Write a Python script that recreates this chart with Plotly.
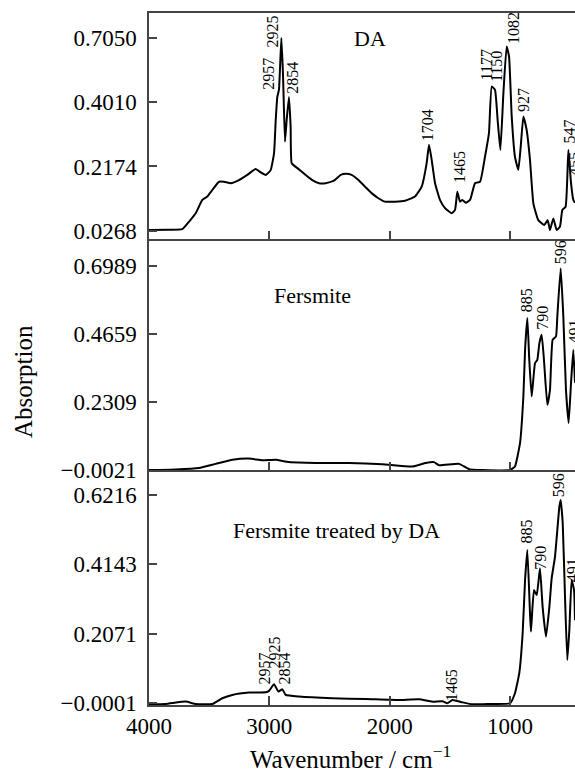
import numpy as np
import plotly.graph_objects as go

# ---------------- data ----------------
wn_da = [4000, 3834, 3723, 3668, 3612, 3557, 3515, 3474, 3418, 3377, 3321, 3252, 3183, 3114, 3072, 3030,
         2989, 2961, 2947, 2934, 2920, 2900, 2886, 2870, 2856, 2837, 2823, 2814, 2767, 2698, 2643, 2587,
         2532, 2463, 2407, 2366, 2316, 2260, 2205, 2150, 2094, 2039, 1956, 1873, 1790, 1734, 1693, 1673,
         1651, 1623, 1582, 1540, 1485, 1457, 1438, 1416, 1396, 1368, 1332, 1291, 1249, 1208, 1175, 1152,
         1125, 1103, 1080, 1055, 1028, 1008, 986, 959, 931, 911, 889, 862, 834, 806, 765, 715, 687, 668,
         640, 612, 585, 565, 538, 515, 493, 474, 460]
abs_da = [0.029, 0.030, 0.032, 0.058, 0.088, 0.135, 0.147, 0.170, 0.199, 0.199, 0.194, 0.205, 0.223, 0.244, 0.232, 0.223,
          0.240, 0.299, 0.416, 0.497, 0.523, 0.705, 0.570, 0.340, 0.417, 0.497, 0.393, 0.264, 0.247, 0.223, 0.205, 0.194,
          0.194, 0.203, 0.223, 0.227, 0.223, 0.205, 0.182, 0.159, 0.141, 0.129, 0.129, 0.132, 0.147, 0.182, 0.264, 0.329,
          0.276, 0.194, 0.135, 0.106, 0.088, 0.100, 0.164, 0.129, 0.135, 0.125, 0.135, 0.194, 0.199, 0.287, 0.370, 0.534,
          0.523, 0.417, 0.311, 0.511, 0.675, 0.640, 0.429, 0.287, 0.241, 0.323, 0.429, 0.382, 0.276, 0.123, 0.064, 0.047, 0.064, 0.029,
          0.070, 0.029, 0.041, 0.100, 0.111, 0.311, 0.194, 0.135, 0.125]

wn_fer = [4000, 3778, 3585, 3446, 3307, 3169, 3058, 2947, 2837, 2615, 2338, 2061, 1812, 1701, 1632, 1590,
          1424, 1341, 1230, 1000, 959, 917, 889, 875, 856, 840, 820, 792, 773, 756, 737, 718, 690, 668,
          646, 618, 607, 579, 557, 535, 513, 493, 474, 460]
abs_fer = [-0.002, 0.000, 0.005, 0.019, 0.033, 0.037, 0.031, 0.033, 0.025, 0.022, 0.022, 0.018, 0.010, 0.022, 0.025, 0.014,
           0.019, 0.001, -0.002, -0.002, 0.010, 0.090, 0.250, 0.410, 0.519, 0.376, 0.250, 0.365, 0.376, 0.433, 0.462, 0.376, 0.222, 0.273,
           0.444, 0.456, 0.524, 0.690, 0.524, 0.273, 0.159, 0.297, 0.410, 0.297]

wn_trt = [4000, 3862, 3695, 3612, 3474, 3391, 3308, 3169, 3030, 3003, 2961, 2925, 2892, 2864, 2754, 2477,
          2200, 1923, 1756, 1646, 1562, 1521, 1479, 1396, 1313, 1166, 1000, 959, 923, 895, 875, 856,
          834, 826, 801, 778, 751, 729, 701, 673, 654, 626, 590, 579, 562, 543, 524, 507, 488, 468, 460]
abs_trt = [-0.004, -0.003, 0.004, -0.003, -0.003, 0.014, 0.024, 0.031, 0.032, 0.036, 0.056, 0.034, 0.041, 0.024, 0.019, 0.014,
           0.012, 0.009, 0.011, 0.004, 0.005, -0.001, 0.009, 0.002, -0.004, -0.003, -0.001, 0.029, 0.089, 0.208, 0.367, 0.457,
           0.268, 0.213, 0.337, 0.322, 0.402, 0.287, 0.198, 0.287, 0.372, 0.437, 0.586, 0.606, 0.536, 0.317, 0.128, 0.218, 0.367, 0.337, 0.247]

# tick labels
x_ticks = [4000, 3000, 2000, 1000]
y1_labels = ["0.0268", "0.2174", "0.4010", "0.7050"]
y2_labels = ["−0.0021", "0.2309", "0.4659", "0.6989"]
y3_labels = ["−0.0001", "0.2071", "0.4143", "0.6216"]
y1_span = (0.0268, 0.7050)
y2_span = (-0.0021, 0.6989)
y3_span = (-0.0001, 0.6216)

# peak labels: (text, wavenumber position, value position)
peaks_da = [("2957", 3003, 0.579), ("2925", 2970, 0.728), ("2854", 2814, 0.564), ("1704", 1679, 0.399),
            ("1465", 1421, 0.252), ("1177", 1194, 0.611), ("1150", 1111, 0.605), ("1082", 972, 0.742),
            ("927", 884, 0.487), ("547", 502, 0.376), ("455", 462, 0.262)]
peaks_fer = [("885", 861, 0.579), ("790", 737, 0.519), ("596", 584, 0.745), ("491", 468, 0.473)]
peaks_trt = [("2957", 3044, 0.103), ("2925", 2961, 0.151), ("2854", 2878, 0.103), ("1465", 1479, 0.054),
             ("885", 861, 0.511), ("790", 742, 0.434), ("596", 590, 0.651), ("491", 482, 0.397)]

sample_names = ["DA", "Fersmite", "Fersmite treated by DA"]
name_pos = [(2163, 0.703), (2645, 0.598), (2446, 0.516)]

# ---------------- figure ----------------
FONT = "Liberation Serif"
AX = "#444"
fig = go.Figure()
line = dict(color="black", width=2, shape="spline", smoothing=0.4)
fig.add_trace(go.Scatter(x=wn_da, y=abs_da, mode="lines", line=line, xaxis="x", yaxis="y", showlegend=False))
fig.add_trace(go.Scatter(x=wn_fer, y=abs_fer, mode="lines", line=line, xaxis="x2", yaxis="y2", showlegend=False))
fig.add_trace(go.Scatter(x=wn_trt, y=abs_trt, mode="lines", line=line, xaxis="x3", yaxis="y3", showlegend=False))

xr = [4000, 460]
common_x = dict(range=xr, tickvals=x_ticks, ticks="inside", ticklen=9, tickwidth=1.5, tickcolor=AX,
                showline=True, linecolor=AX, linewidth=1.5, showgrid=False, zeroline=False)


def yax(span, labels, rng, dom):
    return dict(domain=dom, range=rng, tickvals=list(np.linspace(span[0], span[1], 4)), ticktext=labels,
                ticks="inside", ticklen=8, tickwidth=1.5, tickcolor=AX, showline=True, linecolor=AX,
                linewidth=1.5, showgrid=False, zeroline=False, ticklabelstandoff=6,
                tickfont=dict(family=FONT, size=23, color="black"))


annots = []
for (txt, xv, yv), (ref) in [(p, "1") for p in peaks_da] + [(p, "2") for p in peaks_fer] + [(p, "3") for p in peaks_trt]:
    sfx = "" if ref == "1" else ref
    annots.append(dict(text=txt, x=xv, y=yv, xref="x" + sfx, yref="y" + sfx, showarrow=False, textangle=-90,
                       xanchor="center", yanchor="middle",
                       font=dict(family=FONT, size=16, color="black")))
for i, (nm, (xv, yv)) in enumerate(zip(sample_names, name_pos)):
    sfx = "" if i == 0 else str(i + 1)
    annots.append(dict(text=nm, x=xv, y=yv, xref="x" + sfx, yref="y" + sfx, showarrow=False,
                       xanchor="center", yanchor="middle",
                       font=dict(family=FONT, size=22, color="black")))
annots.append(dict(text="Absorption", x=23, y=382, showarrow=False, xanchor="center", yanchor="middle",
                   textangle=-90, font=dict(family=FONT, size=25, color="black")))
annots.append(dict(text="Wavenumber / cm<sup>−1</sup>", x=350, y=757, showarrow=False,
                   xanchor="center", yanchor="middle",
                   font=dict(family=FONT, size=25, color="black")))

# convert pixel-placed title annotations to paper coords
W, H, L, R, T, B = 575, 771, 149, 0, 13, 66
pw, ph = W - L - R, H - T - B
for a in annots[-2:]:
    a["x"] = (a["x"] - L) / pw
    a["y"] = (H - B - a["y"]) / ph
    a["xref"] = "paper"
    a["yref"] = "paper"

fig.update_layout(
    width=W, height=H, margin=dict(l=L, r=R, t=T, b=B),
    paper_bgcolor="white", plot_bgcolor="white",
    xaxis=dict(**common_x, anchor="y", showticklabels=False, mirror=True),
    xaxis2=dict(**common_x, anchor="y2", matches="x", showticklabels=False),
    xaxis3=dict(**common_x, anchor="y3", matches="x", showticklabels=True,
                tickfont=dict(family=FONT, size=23, color="black")),
    yaxis=yax(y1_span, y1_labels, [-0.0035, 0.7931], [0.673, 1.0]),
    yaxis2=yax(y2_span, y2_labels, [-0.0035, 0.7893], [0.339, 0.673]),
    yaxis3=yax(y3_span, y3_labels, [-0.0061, 0.6944], [0.0, 0.339]),
    annotations=annots,
)
fig.write_html("out.html")
